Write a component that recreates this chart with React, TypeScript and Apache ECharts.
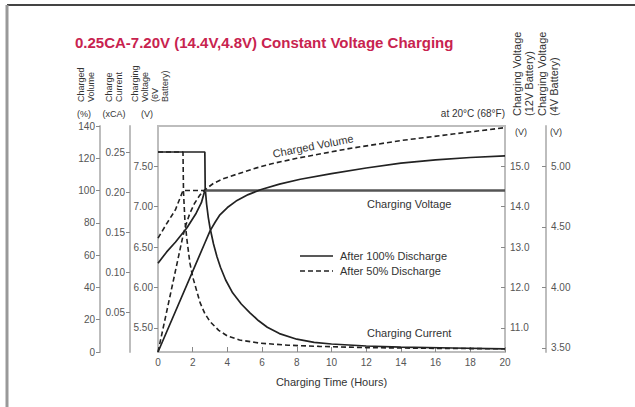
import React, { useEffect, useRef } from "react";
import * as echarts from "echarts";

// ---- Data (time in hours) ----
const timeTicks = [0, 2, 4, 6, 8, 10, 12, 14, 16, 18, 20];
const pctTicks = [0, 20, 40, 60, 80, 100, 120, 140];
const caTicks = [0.05, 0.1, 0.15, 0.2, 0.25];
const v6Ticks = [5.5, 6.0, 6.5, 7.0, 7.5];
const v12Ticks = [11, 12, 13, 14, 15];
const v4Ticks = [3.5, 4.0, 4.5, 5.0];

// Charge current (xCA)
const current100: [number, number][] = [
  [0, 0.25], [2.7, 0.25], [2.72, 0.205], [2.8, 0.185], [2.9, 0.168], [3.0, 0.155],
  [3.2, 0.135], [3.4, 0.119], [3.6, 0.106], [3.9, 0.09], [4.3, 0.074], [4.8, 0.06],
  [5.3, 0.049], [5.8, 0.039], [6.3, 0.031], [7.0, 0.023], [8.0, 0.016], [9.0, 0.012],
  [10, 0.01], [12, 0.0075], [14, 0.006], [17, 0.005], [20, 0.004],
];
const current50: [number, number][] = [
  [0, 0.25], [1.44, 0.25], [1.47, 0.2], [1.55, 0.165], [1.67, 0.14], [1.84, 0.111],
  [2.0, 0.094], [2.13, 0.084], [2.42, 0.062], [2.7, 0.048], [3.0, 0.038], [3.5, 0.027],
  [4.0, 0.02], [4.7, 0.015], [5.9, 0.011], [7.5, 0.0085], [9.3, 0.007], [12, 0.0055],
  [16, 0.0045], [20, 0.004],
];

// Charging voltage (V, 6V battery)
const voltage100Rise: [number, number][] = [
  [0, 6.3], [0.5, 6.44], [1.0, 6.56], [1.67, 6.74], [2.2, 6.92], [2.5, 7.05], [2.7, 7.2],
];
const voltageHold: [number, number][] = [[2.7, 7.2], [20, 7.2]];
const voltage50: [number, number][] = [
  [0, 6.61], [0.5, 6.79], [1.0, 6.96], [1.44, 7.2], [2.7, 7.2],
];

// Charged volume (%)
const volume100: [number, number][] = [
  [0, 0], [2.7, 67.5], [3.0, 75], [3.3, 80.5], [3.57, 85], [4.0, 89.5], [4.5, 93.5],
  [5.2, 97.5], [5.9, 100.5], [7, 104], [8.2, 107], [10, 110.5], [12, 114], [14, 117],
  [16, 119], [18, 120.5], [20, 121.5],
];
const volume50: [number, number][] = [
  [0, 0], [1.44, 72], [1.6, 78.5], [1.84, 86], [2.1, 92], [2.4, 97], [2.7, 100.5],
  [3.2, 104.5], [3.8, 107.5], [4.5, 110], [5.5, 113.5], [6.5, 116.5], [8, 120],
  [11, 126], [14, 131], [17, 135], [20, 139],
];

const FONT = "'Liberation Sans', Arial, sans-serif";
const AXIS_COLOR = "#bdbdbd";
const LABEL_COLOR = "#555";
const TEXT_COLOR = "#333";

function yAxisDef(
  min: number,
  max: number,
  position: "left" | "right",
  offset: number,
  values: number[],
  digits: number,
  inside: boolean
) {
  return {
    type: "value",
    min,
    max,
    position,
    offset,
    splitLine: { show: false },
    axisLine: { show: true, onZero: false, lineStyle: { color: AXIS_COLOR, width: 2 } },
    axisTick: {
      show: true,
      inside,
      length: 4,
      customValues: values,
      lineStyle: { color: "#888", width: 1 },
    },
    axisLabel: {
      customValues: values,
      formatter: (v: number) => v.toFixed(digits),
      fontSize: 10,
      fontFamily: FONT,
      color: LABEL_COLOR,
      margin: 5,
    },
  };
}

function rotText(x: number, yBottom: number, text: string, size = 9) {
  return {
    type: "text",
    x,
    y: yBottom,
    rotation: Math.PI / 2,
    style: {
      text,
      font: `${size}px ${FONT}`,
      fill: TEXT_COLOR,
      align: "left",
      verticalAlign: "top",
      lineHeight: size + 1,
    },
  };
}

function plainText(x: number, y: number, text: string, align = "left", size = 11, extra: any = {}) {
  return {
    type: "text",
    x,
    y,
    style: {
      text,
      font: `${size}px ${FONT}`,
      fill: TEXT_COLOR,
      align,
      verticalAlign: "middle",
    },
    ...extra,
  };
}

const solid = { color: "#222", width: 1.7, type: "solid" };
const dashed = { color: "#222", width: 1.6, type: [5, 3] };

export default function App() {
  const ref = useRef<HTMLDivElement>(null);
  useEffect(() => {
    document.body.style.margin = "0";
    const chart = echarts.init(ref.current!, null, { renderer: "svg" });
    const line = (name: string, data: [number, number][], yAxisIndex: number, ls: any) => ({
      name,
      type: "line",
      data,
      yAxisIndex,
      symbol: "none",
      smooth: false,
      lineStyle: ls,
      silent: true,
    });
    chart.setOption({
      animation: false,
      backgroundColor: "#ffffff",
      textStyle: { fontFamily: FONT },
      grid: {
        left: 158,
        right: 130,
        top: 126,
        bottom: 55,
        show: true,
        borderColor: AXIS_COLOR,
        borderWidth: 2,
        backgroundColor: "transparent",
        outerBoundsMode: "none",
      },
      xAxis: {
        type: "value",
        min: 0,
        max: 20,
        interval: 2,
        splitLine: { show: false },
        axisLine: { show: true, onZero: false, lineStyle: { color: AXIS_COLOR, width: 2 } },
        axisTick: { show: true, inside: true, length: 5, customValues: timeTicks, lineStyle: { color: "#888" } },
        axisLabel: { customValues: timeTicks, fontSize: 10, fontFamily: FONT, color: LABEL_COLOR, margin: 5 },
        name: "Charging Time (Hours)",
        nameLocation: "middle",
        nameGap: 24,
        nameTextStyle: { fontSize: 11, fontFamily: FONT, color: TEXT_COLOR },
      },
      yAxis: [
        yAxisDef(0, 140, "left", 58, pctTicks, 0, false),
        yAxisDef(0, 0.2825, "left", 28, caTicks, 2, false),
        yAxisDef(5.2, 8.0, "left", 0, v6Ticks, 2, false),
        yAxisDef(10.4, 16.0, "right", 0, v12Ticks, 1, true),
        yAxisDef(3.4667, 5.3333, "right", 41, v4Ticks, 2, true),
      ],
      series: [
        line("After 100% Discharge", current100, 1, solid),
        line("After 50% Discharge", current50, 1, dashed),
        line("After 100% Discharge", voltage100Rise, 2, solid),
        line("Charging Voltage", voltageHold, 2, { color: "#555", width: 2.6, type: "solid" }),
        line("After 50% Discharge", voltage50, 2, dashed),
        line("After 100% Discharge", volume100, 0, solid),
        line("After 50% Discharge", volume50, 0, dashed),
      ],
      graphic: [
        // frame
        { type: "line", shape: { x1: 7, y1: 5, x2: 635, y2: 5 }, style: { stroke: "#444", lineWidth: 2 } },
        { type: "line", shape: { x1: 7, y1: 5, x2: 7, y2: 407 }, style: { stroke: "#999", lineWidth: 3 } },
        // title
        {
          type: "text",
          x: 75,
          y: 42,
          style: {
            text: "0.25CA-7.20V (14.4V,4.8V) Constant Voltage Charging",
            font: `bold 15px ${FONT}`,
            fill: "#c8234f",
            align: "left",
            verticalAlign: "middle",
          },
        },
        // left headers
        rotText(76, 102, "Charged\nVolume"),
        rotText(104, 102, "Charge\nCurrent"),
        rotText(130, 102, "Charging\nVoltage\n(6V\nBattery)"),
        plainText(84, 114, "(%)", "center", 9),
        plainText(114, 114, "(xCA)", "center", 9),
        plainText(147, 114, "(V)", "center", 9),
        // right headers
        rotText(511, 116, "Charging Voltage\n(12V Battery)", 11),
        rotText(536, 116, "Charging Voltage\n(4V Battery)", 11),
        plainText(521, 132, "(V)", "center", 9),
        plainText(556, 132, "(V)", "center", 9),
        plainText(505, 113, "at 20°C (68°F)", "right", 10),
        // annotations
        plainText(367, 204, "Charging Voltage"),
        plainText(367, 333, "Charging Current"),
        plainText(313, 146, "Charged Volume", "center", 11, { rotation: 0.19 }),
        // legend
        { type: "line", shape: { x1: 300, y1: 256, x2: 333, y2: 256 }, style: { stroke: "#222", lineWidth: 1.7 } },
        plainText(340, 256, "After 100% Discharge"),
        { type: "line", shape: { x1: 300, y1: 271, x2: 333, y2: 271 }, style: { stroke: "#222", lineWidth: 1.6, lineDash: [5, 3] } },
        plainText(340, 271, "After 50% Discharge"),
      ],
    });
    return () => chart.dispose();
  }, []);
  return (
    <div
      ref={ref}
      style={{ position: "fixed", left: 0, top: 0, width: 635, height: 407 }}
    />
  );
}
